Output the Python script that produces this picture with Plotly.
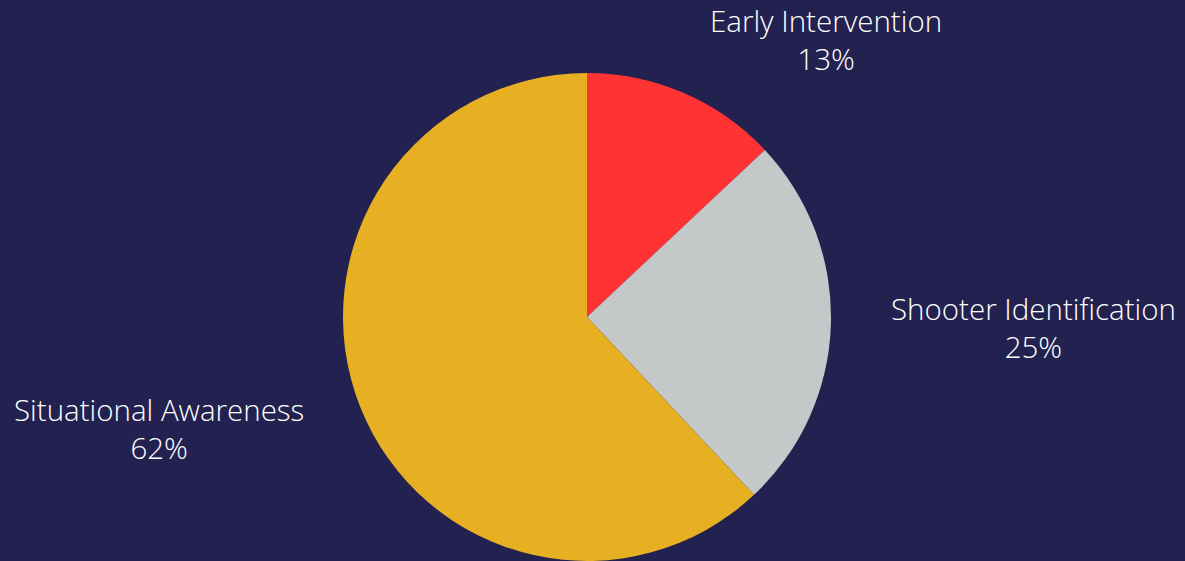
import plotly.graph_objects as go

categories = ["Early Intervention", "Shooter Identification", "Situational Awareness"]
values = [13, 25, 62]
colors = ["#ff3333", "#c5c8c9", "#e6b022"]

W, H = 1185, 561
BG = "#23214f"

fig = go.Figure(go.Pie(
    labels=categories,
    values=values,
    marker=dict(colors=colors, line=dict(width=0)),
    sort=False,
    direction="clockwise",
    rotation=0,
    textinfo="none",
    hoverinfo="label+percent",
    showlegend=False,
    domain=dict(x=[343 / W, 831 / W], y=[0, 488 / H]),
))

# label placement (pixel centre of each two-line label block)
label_pos = [(826, 40), (1033, 327), (159, 429)]
font = dict(family="Open Sans", size=29.5, color="#ffffff", weight=300)
annotations = []
for cat, val, (px, py) in zip(categories, values, label_pos):
    annotations.append(dict(text=f"{cat}<br>{val}%", x=px / W, y=1 - py / H,
                            xref="paper", yref="paper", showarrow=False,
                            xanchor="center", yanchor="middle", align="center", font=font))

fig.update_layout(
    width=W, height=H,
    margin=dict(l=0, r=0, t=0, b=0),
    paper_bgcolor=BG, plot_bgcolor=BG,
    annotations=annotations,
)

post = ("document.documentElement.style.margin='0';"
        "document.body.style.margin='0';"
        "document.body.style.overflow='hidden';"
        f"document.body.style.background='{BG}';")
fig.write_html("out.html", post_script=post, config={"displayModeBar": False})
